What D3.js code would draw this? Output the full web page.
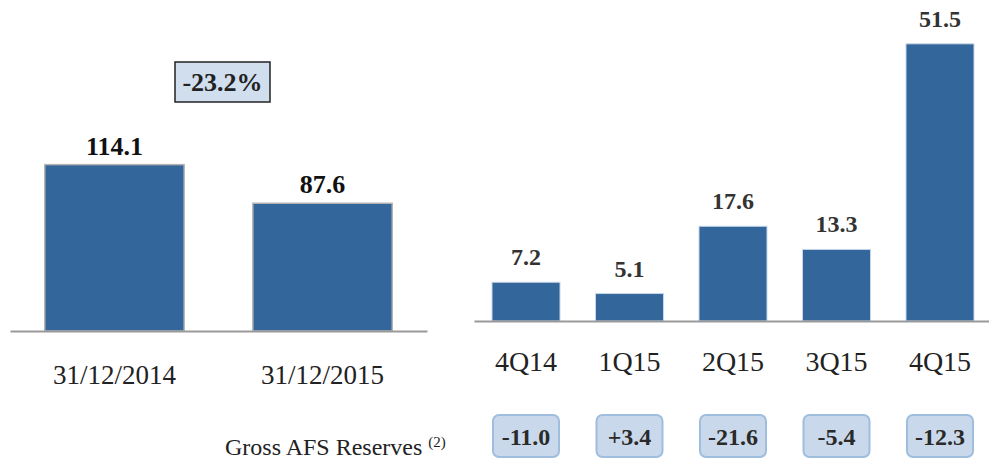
<!DOCTYPE html>
<html>
<head>
<meta charset="utf-8">
<script src="https://cdn.jsdelivr.net/npm/d3@7"></script>
<style>
  body { margin: 0; background: #fff; }
  svg { display: block; font-family: "Liberation Serif", "DejaVu Serif", serif; }
  .axis .domain { stroke: #9a9a9a; stroke-width: 2; }
  .axis text { fill: #222; font-family: "Liberation Serif", "DejaVu Serif", serif; }
</style>
</head>
<body>
<div class="chart"></div>
<script>
(function() {
var W = 989, H = 461;
var svg = d3.select(".chart").append("svg").attr("width", W).attr("height", H);

// left panel: stock at year end
const yearCats = ["31/12/2014", "31/12/2015"];
const yearVals = [114.1, 87.6];
const changeLabel = "-23.2%";

// right panel: quarterly
const quarters = ["4Q14", "1Q15", "2Q15", "3Q15", "4Q15"];
const quarterVals = [7.2, 5.1, 17.6, 13.3, 51.5];
const reserves = ["-11.0", "+3.4", "-21.6", "-5.4", "-12.3"];
const reservesTitle = "Gross AFS Reserves";

const barColor = "#33669a";

// ---- left
var xL = d3.scaleBand().domain(yearCats).range([10, 427]).paddingInner(0.33).paddingOuter(0.167);
var yL = d3.scaleLinear().domain([0, 120]).range([331, 156]);

var gL = svg.append("g");

gL.selectAll(".barL")
    .data(yearVals)
    .enter().append("rect")
    .attr("class", "barL")
    .attr("x", (d, i) => xL(yearCats[i]))
    .attr("width", xL.bandwidth())
    .attr("y", (d) => yL(d))
    .attr("height", (d) => yL(0) - yL(d))
    .style("fill", barColor)
    .style("stroke", "#b4b4b4")
    .style("stroke-width", 1.5);

gL.selectAll(".lblL")
    .data(yearVals)
    .enter().append("text")
    .attr("x", (d, i) => xL(yearCats[i]) + xL.bandwidth() / 2)
    .attr("y", (d) => yL(d) - 10)
    .attr("text-anchor", "middle")
    .style("font-size", "26px")
    .style("font-weight", "bold")
    .style("fill", "#111")
    .text((d) => d.toFixed(1));

gL.append("g")
    .attr("class", "axis")
    .attr("transform", "translate(0," + yL(0) + ")")
    .call(d3.axisBottom(xL).tickSize(0).tickPadding(34))
    .selectAll("text")
    .style("font-size", "27px");

// change box
var cb = gL.append("g").attr("transform", "translate(175,62)");
cb.append("rect").attr("width", 95).attr("height", 40)
    .style("fill", "#d0deee").style("stroke", "#222").style("stroke-width", 1.5);
cb.append("text").attr("x", 47.5).attr("y", 29).attr("text-anchor", "middle")
    .style("font-size", "26px").style("font-weight", "bold").style("fill", "#222")
    .text(changeLabel);

// ---- right
var xR = d3.scaleBand().domain(quarters).range([474, 992]).paddingInner(0.343).paddingOuter(0.174);
var yR = d3.scaleLinear().domain([0, 55]).range([321, 25]);

var gR = svg.append("g");

gR.selectAll(".barR")
    .data(quarterVals)
    .enter().append("rect")
    .attr("class", "barR")
    .attr("x", (d, i) => xR(quarters[i]))
    .attr("width", xR.bandwidth())
    .attr("y", (d) => yR(d))
    .attr("height", (d) => yR(0) - yR(d))
    .style("fill", barColor)
    .style("stroke", "#c6d6e8")
    .style("stroke-width", 1);

gR.selectAll(".lblR")
    .data(quarterVals)
    .enter().append("text")
    .attr("x", (d, i) => xR(quarters[i]) + xR.bandwidth() / 2)
    .attr("y", (d) => yR(d) - 17)
    .attr("text-anchor", "middle")
    .style("font-size", "24px")
    .style("font-weight", "bold")
    .style("fill", "#333")
    .text((d) => d.toFixed(1));

gR.append("g")
    .attr("class", "axis")
    .attr("transform", "translate(0," + yR(0) + ")")
    .call(d3.axisBottom(xR).tickSize(0).tickPadding(30))
    .selectAll("text")
    .style("font-size", "28px");

// reserves boxes
var rb = gR.selectAll(".res")
    .data(reserves)
    .enter().append("g")
    .attr("class", "res")
    .attr("transform", (d, i) => "translate(" + (xR(quarters[i]) + 1) + ",415)");
rb.append("rect")
    .attr("width", xR.bandwidth() - 2).attr("height", 42).attr("rx", 6)
    .style("fill", "#c9d9eb").style("stroke", "#9fbddc").style("stroke-width", 2);
rb.append("text")
    .attr("x", (xR.bandwidth() - 2) / 2).attr("y", 30).attr("text-anchor", "middle")
    .style("font-size", "24px").style("font-weight", "bold").style("fill", "#2a2a2a")
    .text((d) => d);

var rt = svg.append("text").attr("x", 225).attr("y", 455)
    .style("font-size", "24px").style("fill", "#222");
rt.append("tspan").text(reservesTitle + " ");
rt.append("tspan").attr("dy", -8).style("font-size", "15px").text("(2)");
}())
</script>
</body>
</html>
